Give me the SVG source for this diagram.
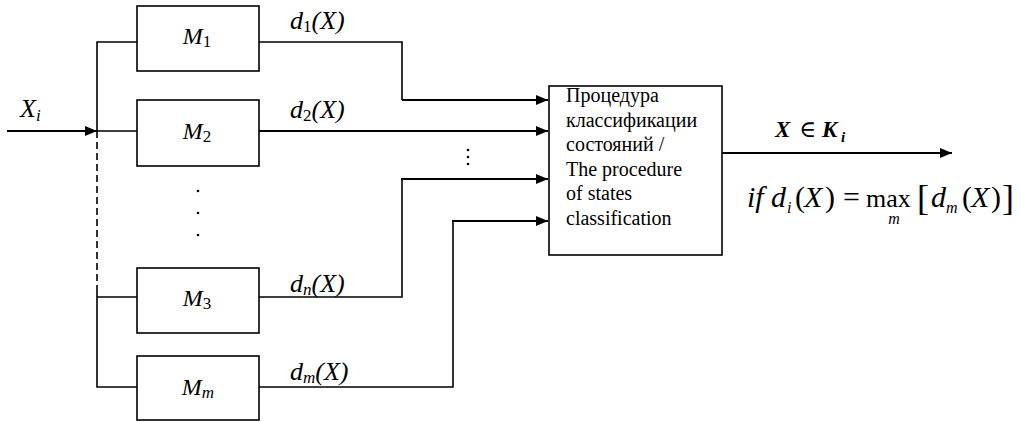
<svg xmlns="http://www.w3.org/2000/svg" width="1021" height="422" viewBox="0 0 1021 422">
  <style>
    .box { fill: #fff; stroke: #000; stroke-width: 1.6; }
    .ln { fill: none; stroke: #000; stroke-width: 1.6; }
    .arr { fill: none; stroke: #000; stroke-width: 2.2; }
    .dash { fill: none; stroke: #000; stroke-width: 1.6; stroke-dasharray: 7 4; }
    text { font-family: 'Liberation Serif', Tinos, 'DejaVu Serif', serif; fill: #000; }
    .lbl { font-style: italic; font-size: 26px; }
    .mlbl { font-style: italic; font-size: 24px; }
    .sub { font-size: 17px; font-style: normal; }
    .subi { font-size: 17px; font-style: italic; }
    .txt { font-size: 20px; }
    .bold { font-weight: bold; font-style: italic; font-size: 23px; }
    .f { font-size: 30px; font-style: italic; }
    .fs { font-size: 16px; font-style: italic; }
    .up { font-style: normal; }
  </style>
  <defs>
    <marker id="ah" viewBox="0 0 12 10" refX="12" refY="5" markerWidth="12" markerHeight="10" markerUnits="userSpaceOnUse" orient="auto">
      <path d="M0,0 L12,5 L0,10 Z" fill="#000"/>
    </marker>
  </defs>

  <rect width="1021" height="422" fill="#fff"/>

  <!-- connectors -->
  <g id="connectors">
    <!-- input and distribution bus -->
    <line class="arr" x1="7" y1="131" x2="97" y2="131" marker-end="url(#ah)"/>
    <path class="ln" d="M137,42 H97 V131 H137"/>
    <line class="dash" x1="97" y1="131" x2="97" y2="291"/>
    <path class="ln" d="M97,291 V387 H137 M97,297 H137"/>
    <!-- model outputs into the classifier -->
    <path class="ln" d="M259,42 H402 V100"/>
    <line class="arr" x1="402" y1="100" x2="548" y2="100" marker-end="url(#ah)"/>
    <line class="arr" x1="259" y1="131" x2="548" y2="131" marker-end="url(#ah)"/>
    <path class="ln" d="M259,297 H402 V179"/>
    <line class="arr" x1="401" y1="179" x2="548" y2="179" marker-end="url(#ah)"/>
    <path class="ln" d="M259,387 H453 V221"/>
    <line class="arr" x1="452" y1="221" x2="548" y2="221" marker-end="url(#ah)"/>
    <!-- classifier output -->
    <line class="arr" x1="722" y1="153" x2="952" y2="153" marker-end="url(#ah)"/>
    <!-- continuation dots -->
    <circle cx="198" cy="191" r="1.3"/>
    <circle cx="198" cy="213" r="1.3"/>
    <circle cx="198" cy="235" r="1.3"/>
    <circle cx="468" cy="150" r="1.3"/>
    <circle cx="468" cy="157" r="1.3"/>
    <circle cx="468" cy="164" r="1.3"/>
    <!-- signal labels -->
    <text class="lbl" x="20" y="117">X<tspan class="subi" dy="4">i</tspan></text>
    <text class="lbl" x="290" y="29">d<tspan class="sub" dy="3">1</tspan><tspan dy="-3">(X)</tspan></text>
    <text class="lbl" x="290" y="118">d<tspan class="sub" dy="3">2</tspan><tspan dy="-3">(X)</tspan></text>
    <text class="lbl" x="290" y="292">d<tspan class="subi" dy="3">n</tspan><tspan dy="-3">(X)</tspan></text>
    <text class="lbl" x="290" y="380">d<tspan class="subi" dy="3">m</tspan><tspan dy="-3">(X)</tspan></text>
    <!-- decision rule -->
    <text class="bold"><tspan x="775" y="137">X</tspan><tspan x="799" y="137" class="up" font-weight="normal">∈</tspan><tspan x="822" y="137">K</tspan><tspan x="841" y="142" font-size="15">i</tspan></text>
    <text class="f"><tspan x="747" y="207">if</tspan><tspan x="771" y="207">d</tspan><tspan x="787" y="213" font-size="16">i</tspan><tspan x="795" y="207" class="up">(</tspan><tspan x="804" y="207">X</tspan><tspan x="825" y="207" class="up">)</tspan><tspan x="843" y="207" class="up">=</tspan><tspan x="866" y="207" class="up" font-size="26">max</tspan><tspan x="917" y="210" class="up" font-size="36">[</tspan><tspan x="931" y="207">d</tspan><tspan x="946" y="213" font-size="16">m</tspan><tspan x="962" y="207" class="up">(</tspan><tspan x="971" y="207">X</tspan><tspan x="991" y="207" class="up">)</tspan><tspan x="1002" y="210" class="up" font-size="36">]</tspan></text>
    <text class="fs" x="894" y="224" text-anchor="middle">m</text>
  </g>

  <g id="m1">
    <rect class="box" x="137" y="6" width="122" height="65"/>
    <text class="mlbl" x="197" y="44" text-anchor="middle">M<tspan class="sub" dy="3">1</tspan></text>
  </g>
  <g id="m2">
    <rect class="box" x="137" y="100" width="122" height="66"/>
    <text class="mlbl" x="197" y="139" text-anchor="middle">M<tspan class="sub" dy="3">2</tspan></text>
  </g>
  <g id="m3">
    <rect class="box" x="137" y="268" width="122" height="65"/>
    <text class="mlbl" x="197" y="306" text-anchor="middle">M<tspan class="sub" dy="3">3</tspan></text>
  </g>
  <g id="mm">
    <rect class="box" x="137" y="356" width="122" height="64"/>
    <text class="mlbl" x="198" y="395" text-anchor="middle">M<tspan class="subi" dy="3">m</tspan></text>
  </g>

  <g id="classifier">
    <rect class="box" x="549" y="86" width="173" height="169"/>
    <text class="txt">
      <tspan x="566" y="102">Процедура</tspan>
      <tspan x="566" y="127">классификации</tspan>
      <tspan x="566" y="151">состояний /</tspan>
      <tspan x="566" y="176">The procedure</tspan>
      <tspan x="566" y="200">of states</tspan>
      <tspan x="566" y="225">classification</tspan>
    </text>
  </g>
</svg>
